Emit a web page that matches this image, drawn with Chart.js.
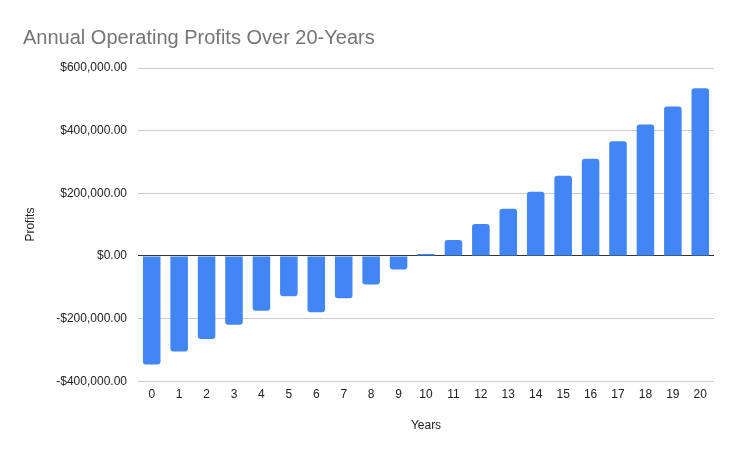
<!DOCTYPE html>
<html>
<head>
<meta charset="utf-8">
<script src="https://cdn.jsdelivr.net/npm/chart.js@4"></script>
<style>
  html, body { margin: 0; padding: 0; background: #fff; }
  #wrap { width: 741px; height: 455px; }
</style>
</head>
<body>
<div id="wrap"><canvas id="chart" width="741" height="455"></canvas></div>
<script>
// data
const years = ['0','1','2','3','4','5','6','7','8','9','10','11','12','13','14','15','16','17','18','19','20'];
const profits = [-347000, -305000, -265000, -220000, -175000, -129000, -180000, -135000, -91000, -43000,
                 6000, 51000, 102000, 151000, 205000, 256000, 310000, 366000, 420000, 477000, 535000];
const yTicks = [-400000, -200000, 0, 200000, 400000, 600000];

const font = "Arial, 'Liberation Sans', sans-serif";

const money = v => (v < 0 ? '-$' : '$') +
  Math.abs(v).toLocaleString('en-US', { minimumFractionDigits: 2, maximumFractionDigits: 2 });

const ctx = document.getElementById('chart').getContext('2d');
new Chart(ctx, {
  type: 'bar',
  data: {
    labels: years,
    datasets: [{
      label: 'Profits',
      data: profits,
      backgroundColor: '#4285F4',
      borderRadius: 3,
      borderSkipped: 'start',
      barPercentage: 0.64,
      categoryPercentage: 1.0,
    }],
  },
  options: {
    responsive: false,
    animation: false,
    layout: { padding: { left: 23, right: 27, top: 0, bottom: 22 } },
    plugins: {
      legend: { display: false },
      tooltip: { enabled: false },
      title: {
        display: true,
        text: 'Annual Operating Profits Over 20-Years',
        align: 'start',
        color: '#757575',
        font: { family: font, size: 20, weight: 'normal' },
        padding: { top: 26, bottom: 18 },
      },
    },
    scales: {
      x: {
        grid: { display: false, drawTicks: false },
        border: { display: false },
        ticks: { color: '#222', font: { family: font, size: 12 }, padding: 6, maxRotation: 0, autoSkip: false },
        title: { display: true, text: 'Years', color: '#222', font: { family: font, size: 12 }, padding: { top: 11, bottom: 0 } },
      },
      y: {
        min: -400000,
        max: 600000,
        afterBuildTicks: axis => { axis.ticks = yTicks.map(v => ({ value: v })); },
        afterFit: axis => { axis.width = 115; },
        grid: {
          color: c => (c.tick && c.tick.value === 0 ? '#333' : '#ccc'),
          drawTicks: false,
        },
        border: { display: false },
        ticks: { color: '#222', font: { family: font, size: 12 }, padding: 11, callback: v => money(v) },
        title: { display: true, text: 'Profits', color: '#222', font: { family: font, size: 12 }, padding: 0 },
      },
    },
  },
});
</script>
</body>
</html>
